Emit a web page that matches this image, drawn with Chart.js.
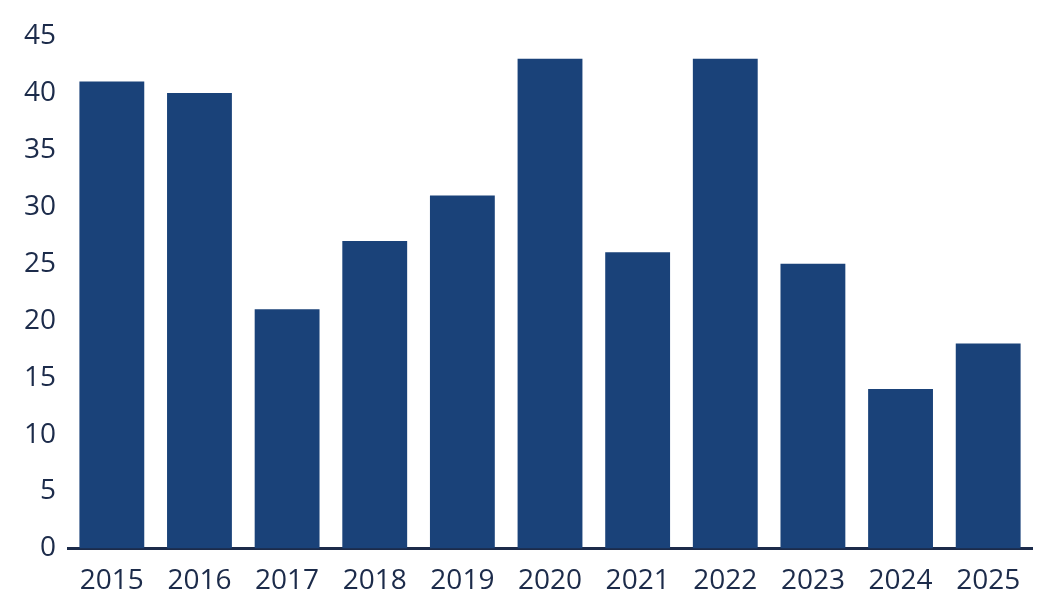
<!DOCTYPE html>
<html>
<head>
<meta charset="UTF-8" />
<style>
  body { margin: 0; background: #fff; }
  #wrap { width: 1062px; height: 612px; }
</style>
</head>
<body>
<div id="wrap"><canvas id="c"></canvas></div>
<script src="https://cdn.jsdelivr.net/npm/chart.js"></script>
<script>
const years = ['2015','2016','2017','2018','2019','2020','2021','2022','2023','2024','2025'];
const values = [41, 40, 21, 27, 31, 43, 26, 43, 25, 14, 18];

const navy = '#1a4279';
const textCol = '#1c2b4a';

new Chart(document.getElementById('c'), {
  type: 'bar',
  data: {
    labels: years,
    datasets: [{ data: values, backgroundColor: navy, categoryPercentage: 1, barPercentage: 0.74 }]
  },
  options: {
    responsive: true,
    maintainAspectRatio: false,
    animation: false,
    layout: { padding: { top: 36, right: 30, left: 12, bottom: 6 } },
    plugins: { legend: { display: false }, tooltip: { enabled: false } },
    scales: {
      x: {
        grid: { display: false },
        border: { color: textCol, width: 3 },
        ticks: { color: textCol, font: { family: 'Open Sans', size: 28 }, padding: 8 }
      },
      y: {
        min: 0, max: 45,
        grid: { display: false, drawTicks: false },
        border: { display: false },
        ticks: { stepSize: 5, color: textCol, font: { family: 'Open Sans', size: 28 }, padding: 12 }
      }
    }
  }
});
</script>
</body>
</html>
